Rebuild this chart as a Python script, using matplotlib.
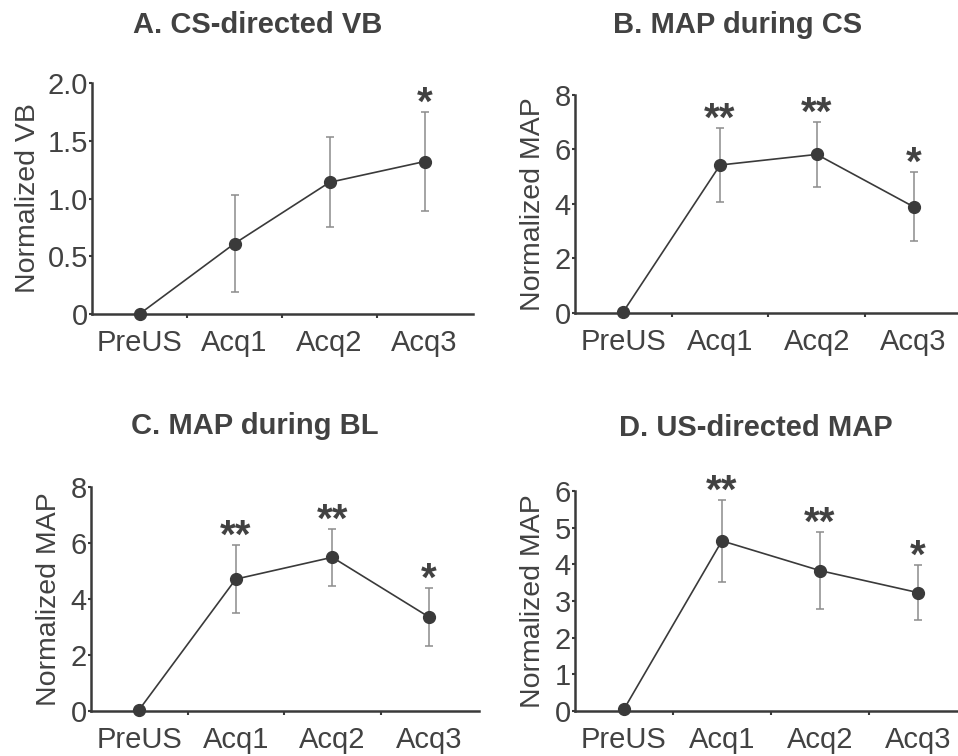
import numpy as np
import matplotlib.pyplot as plt

plt.rcParams['font.family'] = ['Liberation Sans', 'DejaVu Sans']

sessions = ['PreUS', 'Acq1', 'Acq2', 'Acq3']

# panel A: CS-directed VB
vb_cs_mean = [0.0, 0.61, 1.14, 1.32]
vb_cs_err = [0.0, 0.42, 0.39, 0.43]
vb_cs_stars = ['', '', '', '*']

# panel B: MAP during CS
map_cs_mean = [0.05, 5.43, 5.82, 3.90]
map_cs_err = [0.0, 1.35, 1.20, 1.27]
map_cs_stars = ['', '**', '**', '*']

# panel C: MAP during BL
map_bl_mean = [0.05, 4.71, 5.49, 3.36]
map_bl_err = [0.0, 1.22, 1.01, 1.05]
map_bl_stars = ['', '**', '**', '*']

# panel D: US-directed MAP
map_us_mean = [0.05, 4.64, 3.83, 3.23]
map_us_err = [0.0, 1.11, 1.05, 0.76]
map_us_stars = ['', '**', '**', '*']

txt = '#424242'
dark = '#3a3a3a'
grey = '#8c8c8c'

W, H = 958, 756
fig = plt.figure(figsize=(W / 100, H / 100), dpi=100)


def px_axes(l, t, r, b):
    return fig.add_axes([l / W, 1 - b / H, (r - l) / W, (b - t) / H])


def panel(ax, mean, err, stars, ylim, yticks, ylabels, xmax, ylabel_x, ylab):
    x = np.arange(len(sessions)) + 0.5
    ax.errorbar(x, mean, yerr=err, fmt='none', ecolor=grey, elinewidth=1.1,
                capsize=3, capthick=1.1, clip_on=False, zorder=2)
    ax.plot(x, mean, '-', color=dark, lw=1.2, zorder=3, clip_on=False)
    ax.plot(x, mean, 'o', color=dark, ms=8.5, zorder=4, clip_on=False)
    for xi, m, e, s in zip(x, mean, err, stars):
        if s:
            ax.annotate(s, (xi, m + e), xytext=(0, -2), textcoords='offset points',
                        ha='center', va='baseline', fontsize=29, fontweight='bold',
                        color=txt, annotation_clip=False)
    ax.set_xlim(0, xmax)
    ax.set_ylim(*ylim)
    ax.set_yticks(yticks)
    ax.set_yticklabels(ylabels)
    ax.set_xticks([1, 2, 3])
    ax.set_xticklabels([])
    ax.set_xticks(x, minor=True)
    ax.set_xticklabels(sessions, minor=True)
    ax.tick_params(axis='x', which='major', length=3, width=1.5, color=dark)
    ax.tick_params(axis='x', which='minor', length=0, pad=11, labelsize=21, labelcolor=txt)
    ax.tick_params(axis='y', length=2, width=1.5, color=dark, pad=1,
                   labelsize=21, labelcolor=txt)
    for sp in ['top', 'right']:
        ax.spines[sp].set_visible(False)
    for sp in ['left', 'bottom']:
        ax.spines[sp].set_color(dark)
        ax.spines[sp].set_linewidth(1.8)
    ax.set_ylabel(ylab, fontsize=20.5, color=txt)
    ax.yaxis.label.set_va('center')
    ax.yaxis.set_label_coords(ylabel_x, 0.5)


axA = px_axes(92, 83, 473, 314)
panel(axA, vb_cs_mean, vb_cs_err, vb_cs_stars, (0, 2.0), [0, 0.5, 1.0, 1.5, 2.0],
      ['0', '0.5', '1.0', '1.5', '2.0'], 4.01, -0.168, 'Normalized VB')

axB = px_axes(575, 95, 958, 313)
panel(axB, map_cs_mean, map_cs_err, map_cs_stars, (0, 8), [0, 2, 4, 6, 8],
      ['0', '2', '4', '6', '8'], 3.96, -0.11, 'Normalized MAP')

axC = px_axes(91, 487, 479, 711)
panel(axC, map_bl_mean, map_bl_err, map_bl_stars, (0, 8), [0, 2, 4, 6, 8],
      ['0', '2', '4', '6', '8'], 4.02, -0.108, 'Normalized MAP')

axD = px_axes(575, 491, 958, 711)
panel(axD, map_us_mean, map_us_err, map_us_stars, (0, 6), [0, 1, 2, 3, 4, 5, 6],
      ['0', '1', '2', '3', '4', '5', '6'], 3.91, -0.11, 'Normalized MAP')

titles = [('A. CS-directed VB', 258, 33), ('B. MAP during CS', 738, 33),
          ('C. MAP during BL', 255, 434), ('D. US-directed MAP', 756, 436)]
for t, cx, by in titles:
    fig.text(cx / W, 1 - by / H, t, ha='center', va='baseline', fontsize=21,
             fontweight='bold', color=txt)

fig.savefig('out.png', dpi=100, facecolor='white')
